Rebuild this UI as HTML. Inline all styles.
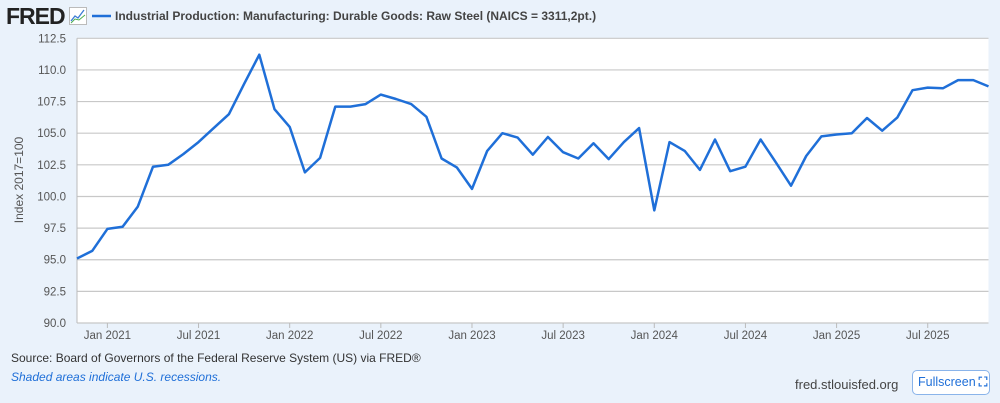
<!DOCTYPE html>
<html><head><meta charset="utf-8"><style>
html,body{margin:0;padding:0;}
body{width:1000px;height:403px;background:#eaf2fb;font-family:"Liberation Sans",sans-serif;position:relative;overflow:hidden;}
.abs{position:absolute;}
</style></head><body>
<div class="abs" style="left:6px;top:3px;font-weight:bold;font-size:23px;color:#222;letter-spacing:-1px;">FRED</div>
<svg class="abs" style="left:69px;top:7px" width="18" height="18"><rect x="0.5" y="0.5" width="17" height="17" fill="#fff" stroke="#bbb"/><polyline points="2,14 6,9 9,11 15,3" fill="none" stroke="#3a7bd5" stroke-width="1.3"/><polyline points="2,16 6,12 10,13 16,8" fill="none" stroke="#4caf50" stroke-width="1"/></svg>
<svg class="abs" style="left:92px;top:14px" width="20" height="4"><line x1="0" y1="2" x2="19" y2="2" stroke="#1f6fd8" stroke-width="2.5"/></svg>
<div class="abs" style="left:115px;top:9px;font-size:12px;font-weight:bold;color:#444;white-space:nowrap;">Industrial Production: Manufacturing: Durable Goods: Raw Steel (NAICS = 3311,2pt.)</div>
<svg id="chart" class="abs" style="left:0;top:0" width="1000" height="350"></svg>
<div class="abs" style="left:11px;top:351px;font-size:12px;color:#333;white-space:nowrap;">Source: Board of Governors of the Federal Reserve System (US) via FRED®</div>
<div class="abs" style="left:11px;top:370px;font-size:12px;color:#1f6fd8;font-style:italic;white-space:nowrap;">Shaded areas indicate U.S. recessions.</div>
<div class="abs" style="left:795px;top:377px;font-size:13px;color:#444;white-space:nowrap;">fred.stlouisfed.org</div>
<div class="abs" style="left:912px;top:370px;width:78px;height:25px;box-sizing:border-box;border:1px solid #8ab4ea;border-radius:5px;background:#fff;color:#1f6fd8;font-size:12.5px;line-height:23px;padding-left:5px;white-space:nowrap;overflow:hidden;">Fullscreen<span style="font-weight:bold;margin-left:3px">⛶</span></div>
<script>
const months = ["2020-11","2020-12","2021-01","2021-02","2021-03","2021-04","2021-05","2021-06","2021-07","2021-08","2021-09","2021-10","2021-11","2021-12","2022-01","2022-02","2022-03","2022-04","2022-05","2022-06","2022-07","2022-08","2022-09","2022-10","2022-11","2022-12","2023-01","2023-02","2023-03","2023-04","2023-05","2023-06","2023-07","2023-08","2023-09","2023-10","2023-11","2023-12","2024-01","2024-02","2024-03","2024-04","2024-05","2024-06","2024-07","2024-08","2024-09","2024-10","2024-11","2024-12","2025-01","2025-02","2025-03","2025-04","2025-05","2025-06","2025-07","2025-08","2025-09","2025-10","2025-11"];
const values = [95.1,95.7,97.44,97.6,99.2,102.35,102.5,103.35,104.3,105.4,106.5,108.9,111.2,106.9,105.5,101.9,103.05,107.1,107.1,107.3,108.05,107.7,107.3,106.3,103.0,102.3,100.6,103.6,105.0,104.65,103.3,104.7,103.5,103.0,104.2,102.95,104.3,105.4,98.9,104.3,103.6,102.1,104.5,102.0,102.35,104.5,102.7,100.85,103.2,104.75,104.9,105.0,106.2,105.2,106.25,108.4,108.6,108.55,109.2,109.2,108.7];
const yTicks = [90.0,92.5,95.0,97.5,100.0,102.5,105.0,107.5,110.0,112.5];
const xTickLabels = ["Jan 2021","Jul 2021","Jan 2022","Jul 2022","Jan 2023","Jul 2023","Jan 2024","Jul 2024","Jan 2025","Jul 2025"];
const xTickMonths = ["2021-01","2021-07","2022-01","2022-07","2023-01","2023-07","2024-01","2024-07","2025-01","2025-07"];

const L=77,R=988.5,T=38.3,B=323,yMin=90,yMax=112.5;
const NS="http://www.w3.org/2000/svg";
const svg=document.getElementById('chart');
const idx=m=>{const[y,mo]=m.split('-').map(Number);return (y-2020)*12+mo-11;};
const n=idx(months[months.length-1]);
const xS=m=>L+(R-L)*idx(m)/n;
const yS=v=>B-(v-yMin)/(yMax-yMin)*(B-T);
function mk(t,a){const e=document.createElementNS(NS,t);for(const k in a)e.setAttribute(k,a[k]);svg.appendChild(e);return e;}
const bg=mk('rect',{x:L,y:T,width:R-L,height:B-T,fill:'#fff'});


yTicks.forEach(v=>{
  const g=mk('line',{x1:L,x2:R,y1:yS(v),y2:yS(v),stroke:'#c8c8c8','stroke-width':1.2});
  
  
  const t=mk('text',{x:66,y:yS(v)+4,'text-anchor':'end','font-size':11.5,fill:'#555','font-family':'Liberation Sans, sans-serif'});
  t.textContent=v.toFixed(1);
  
  
});
const ax=mk('line',{x1:L,x2:L,y1:T,y2:B,stroke:'#bbb','stroke-width':1});


xTickMonths.forEach((m,i)=>{
  const x=xS(m);
  const tk=mk('line',{x1:x,x2:x,y1:B,y2:B+5,stroke:'#bbb'});
  
  
  const t=mk('text',{x:x,y:B+16,'text-anchor':'middle','font-size':11.5,fill:'#555','font-family':'Liberation Sans, sans-serif'});
  t.textContent=xTickLabels[i];
  
  
});
const yl=mk('text',{x:0,y:0,transform:'translate(23,180) rotate(-90)','text-anchor':'middle','font-size':12,fill:'#555','font-family':'Liberation Sans, sans-serif'});
yl.textContent='Index 2017=100';


const pts=months.map((m,i)=>xS(m).toFixed(1)+','+yS(values[i]).toFixed(1)).join(' ');
const pl=mk('polyline',{points:pts,fill:'none',stroke:'#1f6fd8','stroke-width':2.5,'stroke-linejoin':'round'});


</script>
</body></html>
